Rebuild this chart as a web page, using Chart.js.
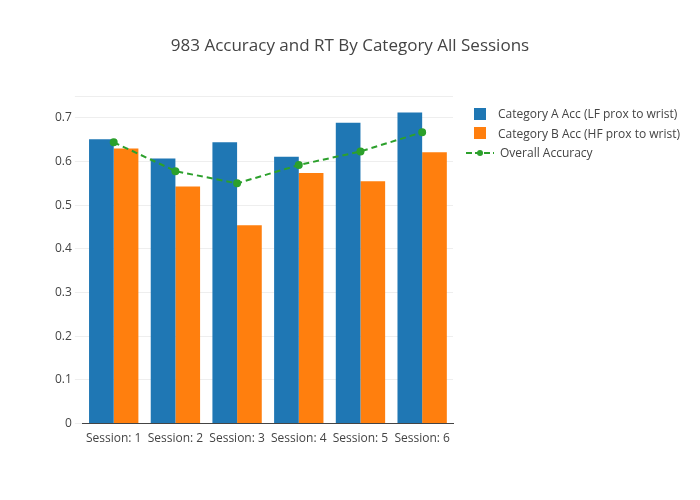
<!DOCTYPE html>
<html>
<head>
<meta charset="utf-8">
<script src="https://cdn.jsdelivr.net/npm/chart.js@4/dist/chart.umd.min.js"></script>
<style>
  body { margin: 0; background: #fff; font-family: 'Open Sans', sans-serif; color: #444; }
  #wrap { position: relative; width: 700px; height: 500px; }
  #title { position: absolute; top: 33px; left: 0; width: 700px; text-align: center; font-size: 17px; }
  #legend { position: absolute; top: 104px; left: 466px; font-size: 12px; }
  .item { display: flex; align-items: center; height: 19.5px; }
  .sw { width: 12px; height: 12px; margin: 0 12px 0 8px; }
  .ln { width: 28px; margin-right: 6px; }
</style>
</head>
<body>
<div id="wrap">
  <canvas id="chart"></canvas>
  <div id="title">983 Accuracy and RT By Category All Sessions</div>
  <div id="legend"></div>
</div>
<script>
const sessions = ["Session: 1", "Session: 2", "Session: 3", "Session: 4", "Session: 5", "Session: 6"];
const catA = [0.651, 0.607, 0.644, 0.611, 0.689, 0.712];
const catB = [0.630, 0.543, 0.454, 0.574, 0.555, 0.621];
const overall = [0.644, 0.578, 0.550, 0.592, 0.623, 0.667];

Chart.defaults.font.family = "'Open Sans', sans-serif";
Chart.defaults.color = "#444";

const chart = new Chart(document.getElementById("chart"), {
  type: "bar",
  data: {
    labels: sessions,
    datasets: [
      { label: "Category A Acc (LF prox to wrist)", data: catA, backgroundColor: "#1f77b4", order: 2 },
      { label: "Category B Acc (HF prox to wrist)", data: catB, backgroundColor: "#ff7f0e", order: 2 },
      {
        type: "line", label: "Overall Accuracy", data: overall,
        borderColor: "#2ca02c", backgroundColor: "#2ca02c", borderDash: [6, 4], borderWidth: 2,
        pointRadius: 3, pointBackgroundColor: "#2ca02c", order: 1
      }
    ]
  },
  options: {
    responsive: true,
    maintainAspectRatio: false,
    animation: false,
    layout: { padding: { top: 96, bottom: 54, left: 52, right: 247 } },
    datasets: { bar: { categoryPercentage: 0.8, barPercentage: 1.0 } },
    plugins: { legend: { display: false } },
    scales: {
      x: { grid: { display: false }, border: { color: "#444" }, ticks: { font: { size: 12 }, maxRotation: 0, padding: 0 } },
      y: {
        min: 0, max: 0.75,
        grid: { color: "#eee" }, border: { display: false },
        ticks: { stepSize: 0.1, font: { size: 12 }, callback: v => v > 0.71 ? "" : (v === 0 ? "0" : +v.toFixed(1)) }
      }
    }
  }
});

// HTML legend built from the datasets
const legend = document.getElementById("legend");
chart.data.datasets.forEach(ds => {
  const row = document.createElement("div");
  row.className = "item";
  if (ds.type === "line") {
    row.innerHTML = '<svg class="ln" width="28" height="10"><line x1="0" y1="5" x2="28" y2="5" stroke="' + ds.borderColor +
      '" stroke-width="2" stroke-dasharray="6,3"/><circle cx="14" cy="5" r="3" fill="' + ds.borderColor + '"/></svg>';
  } else {
    row.innerHTML = '<div class="sw" style="background:' + ds.backgroundColor + '"></div>';
  }
  row.appendChild(document.createTextNode(ds.label));
  legend.appendChild(row);
});
</script>
</body>
</html>
